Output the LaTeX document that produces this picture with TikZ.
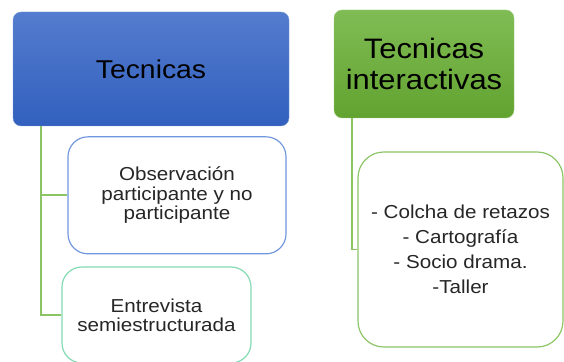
\documentclass[tikz,border=0pt]{standalone}
\usepackage{fontspec}
\newfontfamily\boxfont[FakeStretch=1.1]{Liberation Sans}
\usetikzlibrary{positioning}

\definecolor{tecblue}{RGB}{84,124,206}
\definecolor{tecbluedk}{RGB}{50,96,190}
\definecolor{tecgreen}{RGB}{128,188,84}
\definecolor{tecgreendk}{RGB}{98,163,48}
\definecolor{obsline}{RGB}{112,150,222}
\definecolor{entline}{RGB}{130,218,178}
\definecolor{linkgreen}{RGB}{138,196,100}

\tikzset{
    title/.style={rounded corners=7pt, inner sep=0pt, text=black,
        font=\boxfont\fontsize{22}{26}\selectfont, align=center},
    item/.style={rounded corners=17pt, fill=white, line width=1pt,
        inner sep=0pt, align=center, text=black!85,
        font=\boxfont\fontsize{16}{16.5}\selectfont},
    link/.style={draw=linkgreen, line width=1.6pt}
}

\begin{document}
\begin{tikzpicture}

    \useasboundingbox (0,0) rectangle (16.92,10.86);

    % left column
    \node[title, top color=tecblue, bottom color=tecbluedk, draw=tecblue!80!white,
          minimum width=8.28cm, minimum height=3.42cm] (tec) at (4.53,8.79) {Tecnicas};
    \node[item, draw=obsline, minimum width=6.54cm, minimum height=3.51cm]
          (obs) at (5.31,5.0) {Observación\\participante y no\\participante};
    \node[item, draw=entline, minimum width=5.67cm, minimum height=2.88cm]
          (ent) at (4.695,1.41) {Entrevista\\semiestructurada};

    \draw[link] ([xshift=0.84cm]tec.south west) |- (obs.west);
    \draw[link] ([xshift=0.84cm]tec.south west) |- (ent.west);

    % right column
    \node[title, top color=tecgreen, bottom color=tecgreendk, draw=tecgreen!80!white,
          font=\boxfont\fontsize{24}{27}\selectfont,
          minimum width=5.4cm, minimum height=3.24cm] (inter) at (12.72,8.94) {Tecnicas\\interactivas};
    \node[item, draw=linkgreen, rounded corners=22pt, font=\boxfont\fontsize{16}{21.3}\selectfont,
          minimum width=6.15cm, minimum height=5.85cm]
          (list) at (13.815,3.375) {- Colcha de retazos\\- Cartografía\\- Socio drama.\\-Taller};

    \draw[link] ([xshift=0.54cm]inter.south west) |- (list.west);

\end{tikzpicture}
\end{document}
